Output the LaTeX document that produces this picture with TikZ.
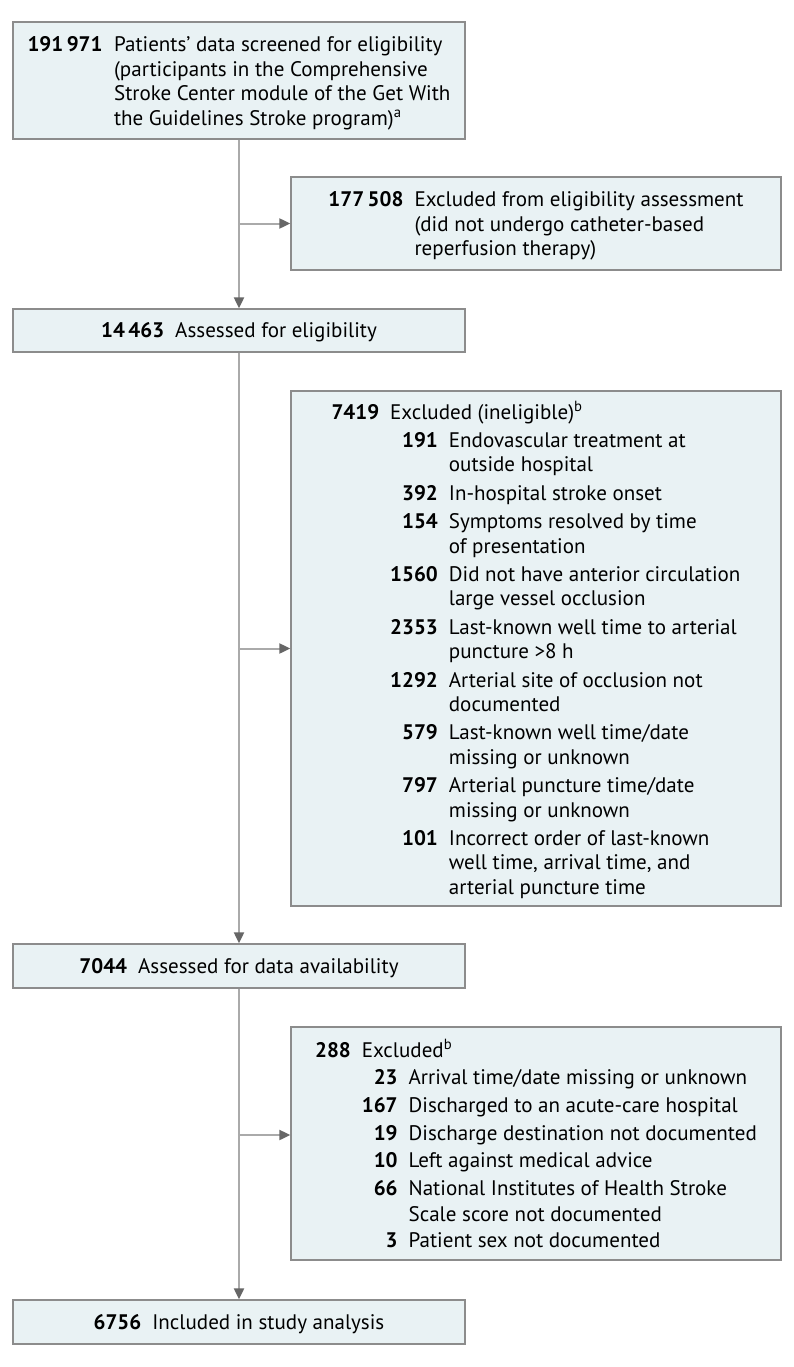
\documentclass[tikz,border=0pt]{standalone}
\usepackage{fontspec}
\setmainfont{PT Sans}
\usetikzlibrary{arrows.meta}
\definecolor{boxfill}{HTML}{E9F2F4}
\definecolor{boxline}{HTML}{8C8C8C}
\definecolor{conline}{HTML}{AAAAAA}
\definecolor{tipcol}{HTML}{666666}
\newlength\calw
\newcommand\ig{4pt}
\newcommand\shiftdown[2]{\raisebox{-#1}[\height][\depth]{#2}}
\begin{document}%
\settowidth\calw{\fontsize{10pt}{12pt}\selectfont Excluded from eligibility assessment}%
\pgfmathsetmacro\fsz{10*329/\calw}%
\begin{tikzpicture}[x=1pt,y=-1pt]
\tikzset{
  box/.style={draw=boxline, line width=1.3pt, fill=boxfill, inner sep=0pt,
    font=\fontsize{\fsz pt}{24.4pt}\selectfont, align=left},
  wide/.style={box, minimum width=452pt},
  side/.style={box, minimum width=490pt},
  conn/.style={draw=conline, line width=2pt,
    -{Triangle[length=11pt,width=10pt,color=tipcol]}}
}
\fill[white] (0,0) rectangle (794,1367);
\useasboundingbox (0,0) rectangle (794,1367);

\node[wide, minimum height=117pt] (b1) at (239,80.5) {\shiftdown{3.2pt}{%
\begin{tabular}{@{}r@{\hspace{11.5pt}}l@{}}
\textbf{191\,971} & Patients’ data screened for eligibility\\
 & (participants in the Comprehensive\\
 & Stroke Center module of the Get With\\
 & the Guidelines Stroke program)\textsuperscript{a}
\end{tabular}}};

\node[side, minimum height=93pt] (b2) at (536,223.5) {\shiftdown{3pt}{%
\begin{tabular}{@{}r@{\hspace{11pt}}l@{}}
\textbf{177\,508} & Excluded from eligibility assessment\\
 & (did not undergo catheter-based\\
 & reperfusion therapy)
\end{tabular}}};

\node[wide, minimum height=43pt] (b3) at (239,330.5)
  {\shiftdown{2pt}{\textbf{14\,463}\hspace{11pt}Assessed for eligibility}};

\node[side, minimum height=515pt] (b4) at (536,648.5) {\shiftdown{3pt}{%
\begin{tabular}{@{}r@{\hspace{11pt}}r@{\hspace{11pt}}l@{}}
\textbf{7419} & \multicolumn{2}{@{}l@{}}{Excluded (ineligible)\textsuperscript{b}}\\[\ig]
 & \textbf{191} & Endovascular treatment at\\
 & & outside hospital\\[\ig]
 & \textbf{392} & In-hospital stroke onset\\[\ig]
 & \textbf{154} & Symptoms resolved by time\\
 & & of presentation\\[\ig]
 & \textbf{1560} & Did not have anterior circulation\\
 & & large vessel occlusion\\[\ig]
 & \textbf{2353} & Last-known well time to arterial\\
 & & puncture >8 h\\[\ig]
 & \textbf{1292} & Arterial site of occlusion not\\
 & & documented\\[\ig]
 & \textbf{579} & Last-known well time/date\\
 & & missing or unknown\\[\ig]
 & \textbf{797} & Arterial puncture time/date\\
 & & missing or unknown\\[\ig]
 & \textbf{101} & Incorrect order of last-known\\
 & & well time, arrival time, and\\
 & & arterial puncture time
\end{tabular}}};

\node[wide, minimum height=44pt] (b5) at (239,966)
  {\shiftdown{2pt}{\textbf{7044}\hspace{11pt}Assessed for data availability}};

\node[side, minimum height=233pt] (b6) at (536,1143.5) {\shiftdown{3.5pt}{%
\begin{tabular}{@{}r@{\hspace{11pt}}r@{\hspace{11pt}}l@{}}
\textbf{288} & \multicolumn{2}{@{}l@{}}{Excluded\textsuperscript{b}}\\[3.2pt]
 & \textbf{23} & Arrival time/date missing or unknown\\[3.2pt]
 & \textbf{167} & Discharged to an acute-care hospital\\[3.2pt]
 & \textbf{19} & Discharge destination not documented\\[3.2pt]
 & \textbf{10} & Left against medical advice\\[3.2pt]
 & \textbf{66} & National Institutes of Health Stroke\\[1.5pt]
 & & Scale score not documented\\[1.5pt]
 & \textbf{3} & Patient sex not documented
\end{tabular}}};

\node[wide, minimum height=44pt] (b7) at (239,1322)
  {\shiftdown{2pt}{\textbf{6756}\hspace{11pt}Included in study analysis}};

\coordinate (j1) at (b1.south |- b2.west);
\coordinate (j2) at (b3.south |- b4.west);
\coordinate (j3) at (239,1135);

\draw[conn] (b1.south) -- (b3.north);
\draw[conn] (j1) -- (b2.west);
\draw[conn] (b3.south) -- (b5.north);
\draw[conn] (j2) -- (b4.west);
\draw[conn] (b5.south) -- (b7.north);
\draw[conn] (j3) -- (j3 -| b6.west);
\end{tikzpicture}%
\end{document}
